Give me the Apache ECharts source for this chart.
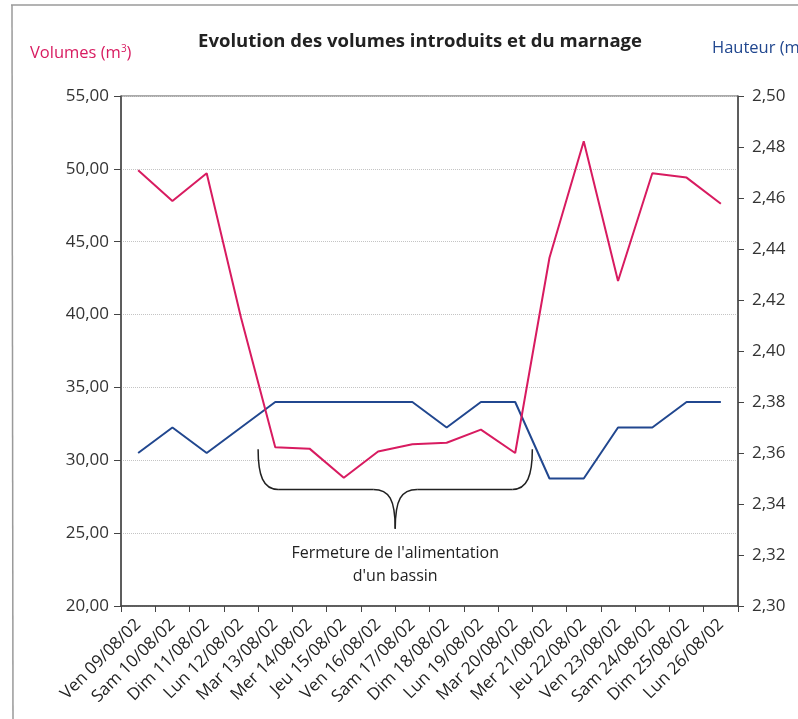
<!DOCTYPE html>
<html>
<head>
<meta charset="utf-8">
<script src="https://cdn.jsdelivr.net/npm/echarts@6/dist/echarts.min.js"></script>
<style>
  html, body { margin: 0; padding: 0; background: #fff; }
  #chart { width: 798px; height: 719px; }
</style>
</head>
<body>
<div id="chart"></div>
<script>
// Daily readings, 9 to 26 August 2002
const days = [
  'Ven 09/08/02', 'Sam 10/08/02', 'Dim 11/08/02', 'Lun 12/08/02', 'Mar 13/08/02',
  'Mer 14/08/02', 'Jeu 15/08/02', 'Ven 16/08/02', 'Sam 17/08/02', 'Dim 18/08/02',
  'Lun 19/08/02', 'Mar 20/08/02', 'Mer 21/08/02', 'Jeu 22/08/02', 'Ven 23/08/02',
  'Sam 24/08/02', 'Dim 25/08/02', 'Lun 26/08/02'
];
// Volumes introduced (m3)
const volumes = [
  49.9, 47.8, 49.7, 39.8, 30.9, 30.8, 28.8, 30.6, 31.1, 31.2,
  32.1, 30.5, 43.9, 51.9, 42.3, 49.7, 49.4, 47.6
];
// Water height (m)
const hauteur = [
  2.36, 2.37, 2.36, 2.37, 2.38, 2.38, 2.38, 2.38, 2.38, 2.37,
  2.38, 2.38, 2.35, 2.35, 2.37, 2.37, 2.38, 2.38
];
// Closure period of one basin feed (from Mar 13 to Mar 20)
const closureStart = 4;
const closureEnd = 11;
const closureText = ["Fermeture de l'alimentation", "d'un bassin"];

const pink = '#d81b60';
const navy = '#21478f';
const font = '"Open Sans", "DejaVu Sans", sans-serif';
const fmt = (d) => (v) => v.toFixed(d).replace('.', ',');

const chart = echarts.init(document.getElementById('chart'));

chart.setOption({
  animation: false,
  backgroundColor: '#fff',
  textStyle: { fontFamily: font },
  title: {
    text: 'Evolution des volumes introduits et du marnage',
    left: 415,
    top: 27,
    textAlign: 'center',
    textStyle: { fontFamily: font, fontWeight: 'bold', fontSize: 18.5, color: '#222' }
  },
  grid: {
    left: 121, right: 60, top: 96, bottom: 113,
    show: true, borderColor: '#555', borderWidth: 1
  },
  xAxis: {
    type: 'category',
    data: days,
    boundaryGap: true,
    axisLine: { lineStyle: { color: '#444', width: 1.5 } },
    axisTick: { show: true, length: 6, lineStyle: { color: '#444' } },
    axisLabel: {
      rotate: 45, interval: 0, margin: 16,
      fontFamily: font, fontSize: 17, color: '#222'
    }
  },
  yAxis: [
    {
      type: 'value', min: 20, max: 55, interval: 5, position: 'left',
      axisLine: { show: true, lineStyle: { color: '#444', width: 1.5 } },
      axisTick: { show: true, length: 7, lineStyle: { color: '#444' } },
      axisLabel: { formatter: fmt(2), fontFamily: font, fontSize: 17, color: '#333', margin: 12 },
      splitLine: { show: true, lineStyle: { color: '#c4c4c4', type: 'dotted', width: 1 } }
    },
    {
      type: 'value', min: 2.30, max: 2.50, interval: 0.02, position: 'right',
      axisLine: { show: true, lineStyle: { color: '#444', width: 1.5 } },
      axisTick: { show: true, length: 6, lineStyle: { color: '#444' } },
      axisLabel: { formatter: fmt(2), fontFamily: font, fontSize: 17, color: '#333', margin: 14 },
      splitLine: { show: false }
    }
  ],
  series: [
    {
      name: 'Hauteur', type: 'line', yAxisIndex: 1, data: hauteur,
      symbol: 'none', lineStyle: { color: navy, width: 2 }, z: 2
    },
    {
      name: 'Volumes', type: 'line', yAxisIndex: 0, data: volumes,
      symbol: 'none', lineStyle: { color: pink, width: 2 }, z: 3
    }
  ]
});

// Brace and caption marking the closure period, placed in data space
const px = (i, v) => chart.convertToPixel({ xAxisIndex: 0, yAxisIndex: 0 }, [i, v]);
const edge = (i) => (px(i - 1, 30)[0] + px(i, 30)[0]) / 2;
const x0 = edge(closureStart);
const x1 = edge(closureEnd + 1);
const xc = (x0 + x1) / 2;
const yTop = px(0, 30.75)[1];
const yMid = px(0, 28.0)[1];
const yTip = px(0, 25.3)[1];
const yText1 = px(0, 23.6)[1];
const yText2 = px(0, 22.05)[1];

const braceStyle = { stroke: '#222', fill: null, lineWidth: 1.5 };
const curve = (a, b, c, d) => ({
  type: 'bezierCurve', z: 10,
  shape: { x1: a[0], y1: a[1], cpx1: b[0], cpy1: b[1], cpx2: c[0], cpy2: c[1], x2: d[0], y2: d[1] },
  style: braceStyle
});
const seg = (a, b) => ({
  type: 'line', z: 10,
  shape: { x1: a[0], y1: a[1], x2: b[0], y2: b[1] },
  style: braceStyle
});

chart.setOption({
  graphic: [
    // page frame
    { type: 'line', shape: { x1: 11, y1: 5, x2: 798, y2: 5 }, style: { stroke: '#9a9a9a', lineWidth: 1.5 } },
    { type: 'line', shape: { x1: 12, y1: 5, x2: 13, y2: 719 }, style: { stroke: '#9a9a9a', lineWidth: 1.5 } },
    // axis titles
    {
      type: 'text', x: 30, y: 44,
      style: {
        text: '{a|Volumes (m}{s|3}{a|)}',
        rich: {
          a: { fontFamily: font, fontSize: 16.5, fill: pink, color: pink },
          s: { fontFamily: font, fontSize: 10, fill: pink, color: pink, verticalAlign: 'top', padding: [0, 0, 8, 0] }
        }
      }
    },
    {
      type: 'text', x: 712, y: 40,
      style: { text: 'Hauteur (m)', fontFamily: font, fontSize: 16.5, fill: navy }
    },
    // brace
    curve([x0, yTop], [x0, yMid - 14], [x0 + 5, yMid], [x0 + 20, yMid]),
    seg([x0 + 20, yMid], [xc - 22, yMid]),
    curve([xc - 22, yMid], [xc - 6, yMid], [xc, yMid + 10], [xc, yTip]),
    curve([xc, yTip], [xc, yMid + 10], [xc + 6, yMid], [xc + 22, yMid]),
    seg([xc + 22, yMid], [x1 - 20, yMid]),
    curve([x1 - 20, yMid], [x1 - 5, yMid], [x1, yMid - 14], [x1, yTop]),
    // caption
    {
      type: 'text', x: xc, y: yText1, z: 10,
      style: { text: closureText[0], fontFamily: font, fontSize: 16, fill: '#222', align: 'center', verticalAlign: 'middle' }
    },
    {
      type: 'text', x: xc, y: yText2, z: 10,
      style: { text: closureText[1], fontFamily: font, fontSize: 16, fill: '#222', align: 'center', verticalAlign: 'middle' }
    }
  ]
});
</script>
</body>
</html>
